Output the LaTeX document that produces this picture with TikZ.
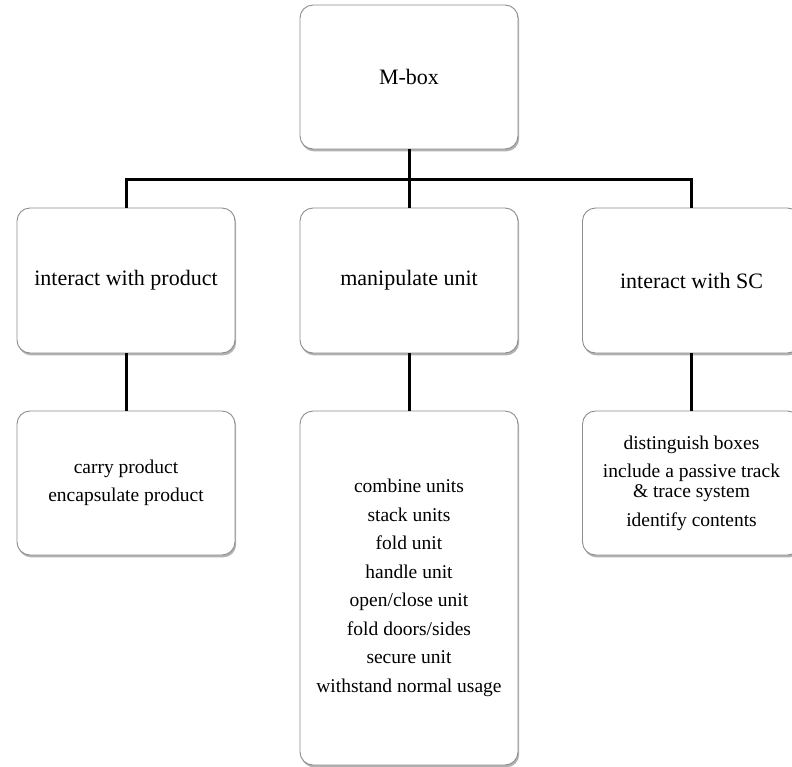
\documentclass[tikz,border=0pt]{standalone}
\usepackage{fontspec}
\setmainfont{Liberation Serif}
\usetikzlibrary{shadows}

\begin{document}
\begin{tikzpicture}[x=1pt, y=-1pt,
  box/.style={draw=black!45, line width=0.9pt, fill=white, rounded corners=13pt,
    minimum width=218pt, minimum height=144pt, align=center, inner sep=0pt,
    drop shadow={shadow xshift=1.2pt, shadow yshift=-2.4pt, fill=black, opacity=0.3}},
  big/.style={font=\fontsize{22}{26}\selectfont},
  small/.style={font=\fontsize{19.5}{20}\selectfont},
  link/.style={line width=3pt}]
  \useasboundingbox (0,0) rectangle (792,766);
  \def\colA{126} \def\colB{409} \def\colC{691.5}
  \node[box, big] (mbox) at (\colB,77) {M-box};
  \foreach \x/\n/\t in {\colA/prod/interact with product, \colB/unit/manipulate unit, \colC/sc/interact with SC} {
    \node[box, big, minimum height=145pt] (\n) at (\x,280.5) {\t};
  }
  \node[box, small] (carry) at (\colA,483) {carry product\\[8.5pt]encapsulate product};
  \node[box, small, minimum height=354pt] (handle) at (\colB,588)
    {combine units\\[8.5pt]stack units\\[8.5pt]fold unit\\[8.5pt]handle unit\\[8.5pt]open/close unit\\[8.5pt]fold doors/sides\\[8.5pt]secure unit\\[8.5pt]withstand normal usage};
  \node[box, small] (track) at (\colC,483)
    {distinguish boxes\\[8.5pt]include a passive track\\\& trace system\\[8.5pt]identify contents};
  % tree links
  \coordinate (bus) at (\colB,179);
  \draw[link] (prod.north) |- (bus) -| (sc.north);
  \draw[link] (mbox.south) -- (unit.north);
  \draw[link] (prod.south) -- (carry.north);
  \draw[link] (unit.south) -- (handle.north);
  \draw[link] (sc.south) -- (track.north);
\end{tikzpicture}
\end{document}
